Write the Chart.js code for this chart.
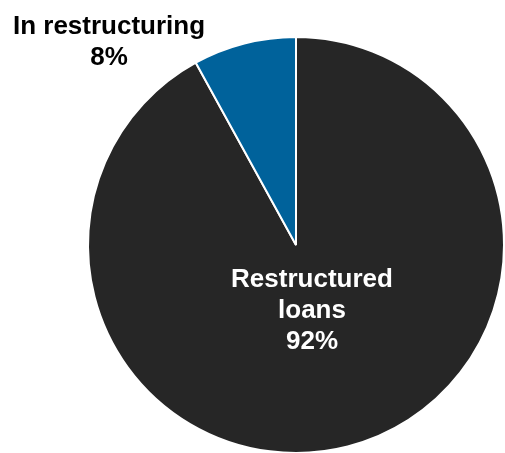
<!DOCTYPE html>
<html>
<head>
<meta charset="utf-8">
<script src="https://cdn.jsdelivr.net/npm/chart.js@4"></script>
<style>
  html, body { margin: 0; padding: 0; background: #fff; overflow: hidden; }
  #wrap { position: relative; width: 510px; height: 460px; }
</style>
</head>
<body>
<div id="wrap"><canvas id="pie" width="510" height="460"></canvas></div>
<script>
// --- Data ---
const categories = ["Restructured loans", "In restructuring"];
const shares = [92, 8];
const sliceColors = ["#262626", "#00629b"];

// label lines per slice, and where to put them relative to the pie centre
const labelLines = [["Restructured", "loans", "92%"], ["In restructuring", "8%"]];
const labelOffsets = [{ dx: 16, dy: 42 }, { dx: -187, dy: -211 }];
const labelColors = ["#ffffff", "#000000"];
const LINE_H = 31;

const sliceLabels = {
  id: "sliceLabels",
  afterDatasetsDraw(chart) {
    const ctx = chart.ctx;
    const meta = chart.getDatasetMeta(0);
    ctx.save();
    ctx.font = "bold 26px 'Liberation Sans', Arial, sans-serif";
    ctx.textAlign = "center";
    ctx.textBaseline = "alphabetic";
    meta.data.forEach((arc, i) => {
      const off = labelOffsets[i];
      ctx.fillStyle = labelColors[i];
      labelLines[i].forEach((line, k) => {
        ctx.fillText(line, arc.x + off.dx, arc.y + off.dy + k * LINE_H);
      });
    });
    ctx.restore();
  },
};

new Chart(document.getElementById("pie").getContext("2d"), {
  type: "pie",
  data: {
    labels: categories,
    datasets: [
      {
        data: shares,
        backgroundColor: sliceColors,
        borderColor: "#ffffff",
        borderWidth: 2,
      },
    ],
  },
  options: {
    responsive: false,
    animation: false,
    layout: { padding: { left: 87, right: 5, top: 36, bottom: 6 } },
    plugins: {
      legend: { display: false },
      tooltip: { enabled: false },
    },
  },
  plugins: [sliceLabels],
});
</script>
</body>
</html>
